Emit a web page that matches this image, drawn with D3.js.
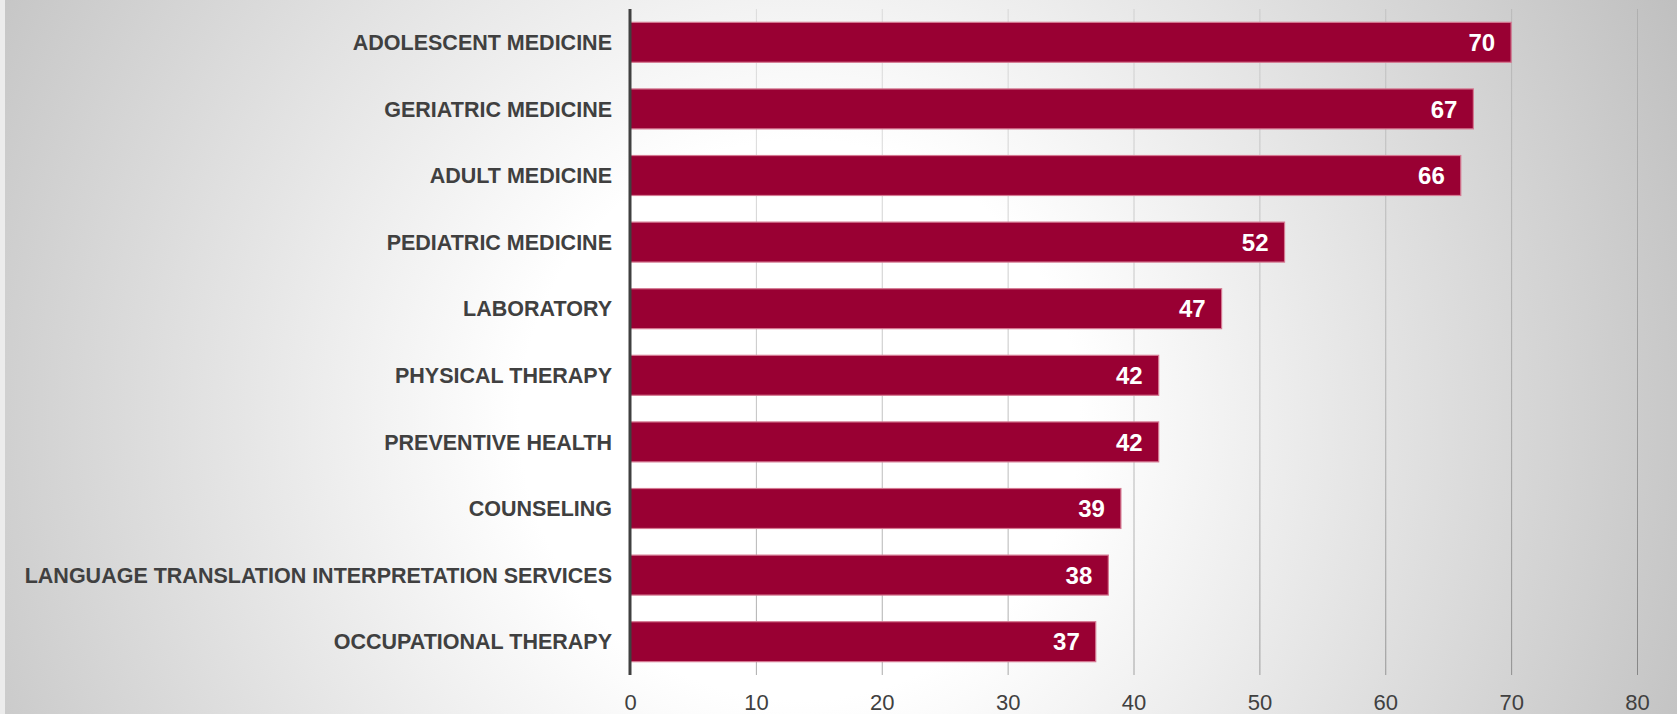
<!DOCTYPE html>
<html>
<head>
<meta charset="utf-8">
<script src="https://cdn.jsdelivr.net/npm/d3@7"></script>
<style>
  html, body { margin: 0; padding: 0; background: #fff; }
  svg { display: block; }
</style>
</head>
<body>
<svg id="chart" width="1677" height="714"></svg>
<script>
// Services ranked by count
const categories = [
  "ADOLESCENT MEDICINE",
  "GERIATRIC MEDICINE",
  "ADULT MEDICINE",
  "PEDIATRIC MEDICINE",
  "LABORATORY",
  "PHYSICAL THERAPY",
  "PREVENTIVE HEALTH",
  "COUNSELING",
  "LANGUAGE TRANSLATION INTERPRETATION SERVICES",
  "OCCUPATIONAL THERAPY"
];
const values = [70, 67, 66, 52, 47, 42, 42, 39, 38, 37];
const tickValues = [0, 10, 20, 30, 40, 50, 60, 70, 80];

const W = 1677, H = 714;
const plot = { left: 630, right: 1637, top: 9, bottom: 675 };

const svg = d3.select("#chart");
const defs = svg.append("defs");

// Soft radial backdrop: white centre fading to grey edges
const bg = defs.append("radialGradient")
  .attr("id", "bgGrad")
  .attr("gradientUnits", "userSpaceOnUse")
  .attr("cx", 800).attr("cy", 420).attr("r", 1000);
bg.append("stop").attr("offset", 0).attr("stop-color", "#ffffff");
bg.append("stop").attr("offset", 0.28).attr("stop-color", "#ffffff");
bg.append("stop").attr("offset", 1).attr("stop-color", "#bdbdbd");

// Gridline shading, slightly stronger toward the axis
const gg = defs.append("linearGradient")
  .attr("id", "gridGrad")
  .attr("gradientUnits", "userSpaceOnUse")
  .attr("x1", 0).attr("y1", plot.top).attr("x2", 0).attr("y2", plot.bottom);
gg.append("stop").attr("offset", 0).attr("stop-color", "#000").attr("stop-opacity", 0.1);
gg.append("stop").attr("offset", 1).attr("stop-color", "#000").attr("stop-opacity", 0.33);

svg.append("rect").attr("width", W).attr("height", H).attr("fill", "url(#bgGrad)");
svg.append("rect").attr("x", 0).attr("y", 0).attr("width", 5).attr("height", H).attr("fill", "#ececec");

const x = d3.scaleLinear().domain([0, 80]).range([plot.left, plot.right]);
const y = d3.scaleBand().domain(categories).range([plot.top, plot.bottom])
  .paddingInner(0.4).paddingOuter(0.2);

// Vertical gridlines
svg.append("g")
  .selectAll("line")
  .data(tickValues.filter(d => d > 0))
  .join("line")
  .attr("x1", d => x(d) + 0.5).attr("x2", d => x(d) + 0.5)
  .attr("y1", plot.top).attr("y2", plot.bottom)
  .attr("stroke", "url(#gridGrad)")
  .attr("stroke-width", 1);

// Bottom axis labels
const xAxis = d3.axisBottom(x).tickValues(tickValues).tickSize(0).tickPadding(0);
const gx = svg.append("g").attr("transform", `translate(0,${plot.bottom})`).call(xAxis);
gx.select(".domain").remove();
gx.selectAll("text")
  .attr("dy", null)
  .attr("y", 35)
  .attr("fill", "#404040")
  .style("font-family", "'Liberation Sans', Arial, sans-serif")
  .style("font-size", "22px");

// Bars
svg.append("g")
  .selectAll("rect")
  .data(values)
  .join("rect")
  .attr("x", x(0))
  .attr("y", (d, i) => y(categories[i]))
  .attr("width", d => x(d) - x(0))
  .attr("height", y.bandwidth())
  .attr("fill", "#990033")
  .attr("stroke", "#d57992")
  .attr("stroke-width", 1.2);

// Value labels inside bar ends
svg.append("g")
  .selectAll("text")
  .data(values)
  .join("text")
  .attr("x", d => x(d) - 16)
  .attr("y", (d, i) => y(categories[i]) + y.bandwidth() / 2)
  .attr("dy", "0.36em")
  .attr("text-anchor", "end")
  .attr("fill", "#ffffff")
  .style("font-family", "'Liberation Sans', Arial, sans-serif")
  .style("font-weight", "bold")
  .style("font-size", "24px")
  .text(d => d);

// Category axis
const yAxis = d3.axisLeft(y).tickSize(0).tickPadding(18);
const gy = svg.append("g").attr("transform", `translate(${plot.left},0)`).call(yAxis);
gy.select(".domain").remove();
gy.selectAll("text")
  .attr("dy", "0.36em")
  .attr("fill", "#404040")
  .style("font-family", "'Liberation Sans', Arial, sans-serif")
  .style("font-weight", "bold")
  .style("font-size", "21.5px");

svg.append("line")
  .attr("x1", plot.left).attr("x2", plot.left)
  .attr("y1", plot.top).attr("y2", plot.bottom)
  .attr("stroke", "#404040")
  .attr("stroke-width", 3);
</script>
</body>
</html>
